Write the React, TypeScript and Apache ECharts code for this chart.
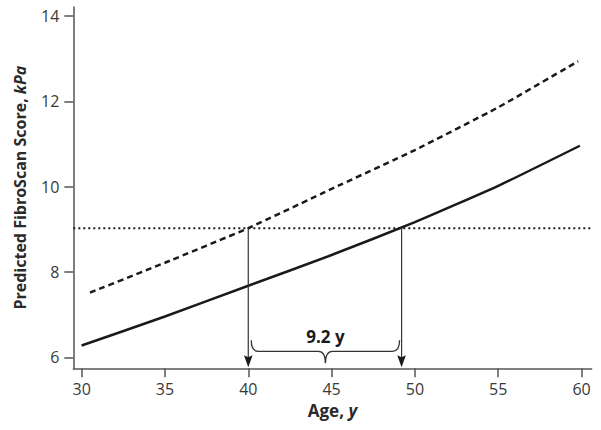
import React, { useEffect, useRef } from "react";
import * as echarts from "echarts";

// ---- Data ----
const solidAges = [30, 35, 40, 45, 50, 55, 59.9];
const solidScores = [6.28, 6.96, 7.68, 8.4, 9.17, 10.02, 10.96];
const dashedAges = [30.5, 35, 40, 45, 50, 55, 59.8];
const dashedScores = [7.52, 8.22, 9.03, 9.95, 10.86, 11.86, 12.94];
const threshold = 9.03;
const crossingAges = [40, 49.2];
const xTicks = [30, 35, 40, 45, 50, 55, 60];
const yTicks = [6, 8, 10, 12, 14];
const xRange = [29.5, 60.61];
const yRange = [5.747, 14.21];

const FONT = "Open Sans";
const INK = "#1a1a1a";
const AXIS = "#555";

export default function App() {
  const ref = useRef<HTMLDivElement>(null);
  useEffect(() => {
    if (!ref.current) return;
    const chart = echarts.init(ref.current, null, { renderer: "svg" });
    const gap = crossingAges[1] - crossingAges[0];
    chart.setOption({
      animation: false,
      backgroundColor: "#fff",
      grid: { left: 73.3, right: 9.3, top: 7, bottom: 61.7, containLabel: false },
      xAxis: {
        type: "value",
        min: xRange[0],
        max: xRange[1],
        name: "{a|Age, }{i|y}",
        nameLocation: "middle",
        nameGap: 34,
        nameTextStyle: {
          rich: {
            a: { fontFamily: FONT, fontSize: 17, fontWeight: "bold", color: "#2a2a2a" },
            i: { fontFamily: FONT, fontSize: 17, fontWeight: "bold", fontStyle: "italic", color: "#2a2a2a" },
          },
        },
        axisLine: { show: true, onZero: false, lineStyle: { color: AXIS, width: 1.5 } },
        axisTick: { show: true, customValues: xTicks, length: 9, lineStyle: { color: AXIS, width: 1.5 } },
        axisLabel: { customValues: xTicks, margin: 13, fontFamily: FONT, fontSize: 16, color: "#3a3a3a" },
        splitLine: { show: false },
      },
      yAxis: {
        type: "value",
        min: yRange[0],
        max: yRange[1],
        name: "{a|Predicted FibroScan Score, }{i|kPa}",
        nameLocation: "middle",
        nameGap: 45,
        nameTextStyle: {
          rich: {
            a: { fontFamily: FONT, fontSize: 16, fontWeight: "bold", color: "#2a2a2a" },
            i: { fontFamily: FONT, fontSize: 16, fontWeight: "bold", fontStyle: "italic", color: "#2a2a2a" },
          },
        },
        axisLine: { show: true, onZero: false, lineStyle: { color: AXIS, width: 1.5 } },
        axisTick: { show: true, customValues: yTicks, length: 9, lineStyle: { color: AXIS, width: 1.5 } },
        axisLabel: { customValues: yTicks, margin: 14, fontFamily: FONT, fontSize: 16, color: "#3a3a3a" },
        splitLine: { show: false },
      },
      series: [
        {
          type: "line",
          data: [
            [xRange[0], threshold],
            [xRange[1], threshold],
          ],
          symbol: "none",
          lineStyle: { color: INK, width: 2, type: [2, 3] },
          z: 2,
        },
        {
          type: "line",
          data: dashedAges.map((a, i) => [a, dashedScores[i]]),
          symbol: "none",
          smooth: 0.15,
          lineStyle: { color: INK, width: 2.5, type: [6, 4] },
          z: 3,
        },
        {
          type: "line",
          data: solidAges.map((a, i) => [a, solidScores[i]]),
          symbol: "none",
          smooth: 0.15,
          lineStyle: { color: INK, width: 2.5 },
          z: 3,
        },
        {
          type: "custom",
          data: [[crossingAges[0], crossingAges[1]]],
          z: 4,
          clip: false,
          renderItem: (params: any, api: any) => {
            const a0 = api.value(0);
            const a1 = api.value(1);
            const top0 = api.coord([a0, threshold]);
            const top1 = api.coord([a1, threshold]);
            const bot0 = api.coord([a0, yRange[0]]);
            const bot1 = api.coord([a1, yRange[0]]);
            const base = bot0[1];
            const tip = base - 1;
            const ah = 12;
            const hw = 4.3;
            const arrow = (x: number) => ({
              type: "polygon",
              shape: {
                points: [
                  [x, tip],
                  [x - hw, tip - ah],
                  [x, tip - ah + 2],
                  [x + hw, tip - ah],
                ],
              },
              style: { fill: INK },
            });
            const vline = (t: number[], b: number[]) => ({
              type: "line",
              shape: { x1: t[0], y1: t[1], x2: b[0], y2: tip - ah + 3 },
              style: { stroke: "#333", lineWidth: 1.2 },
            });
            const x1 = top0[0] + 3;
            const x2 = top1[0] - 2;
            const xm = (x1 + x2) / 2;
            const yTop = base - 28;
            const yH = base - 17;
            const yTip = base - 5;
            const r = 7;
            const d =
              `M ${x1} ${yTop} Q ${x1} ${yH} ${x1 + r} ${yH} L ${xm - r} ${yH} ` +
              `Q ${xm} ${yH} ${xm} ${yTip} Q ${xm} ${yH} ${xm + r} ${yH} ` +
              `L ${x2 - r} ${yH} Q ${x2} ${yH} ${x2} ${yTop}`;
            return {
              type: "group",
              children: [
                vline(top0, bot0),
                vline(top1, bot1),
                arrow(top0[0]),
                arrow(top1[0]),
                {
                  type: "path",
                  shape: { pathData: d },
                  style: { fill: "none", stroke: "#333", lineWidth: 1.3 },
                },
                {
                  type: "text",
                  x: xm,
                  y: base - 32,
                  style: {
                    text: `${gap.toFixed(1)} y`,
                    fontFamily: FONT,
                    fontSize: 17,
                    fontWeight: "bold",
                    fill: INK,
                    align: "center",
                    verticalAlign: "middle",
                  },
                },
              ],
            };
          },
        },
      ],
    });
    return () => chart.dispose();
  }, []);
  return (
    <div
      ref={ref}
      style={{ position: "absolute", left: 0, top: 0, width: 601, height: 430 }}
    />
  );
}
